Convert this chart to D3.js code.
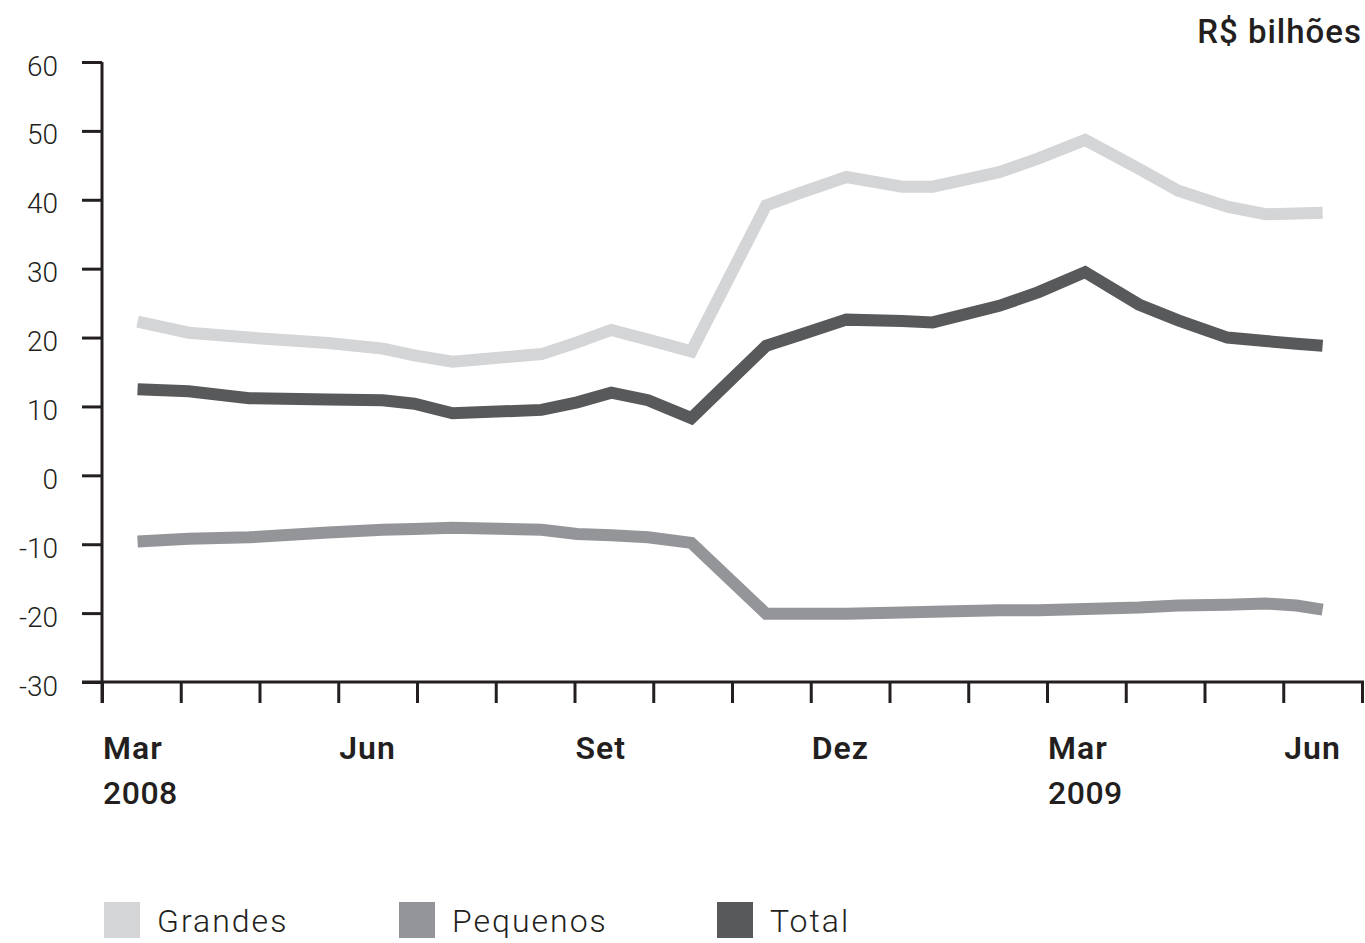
<!DOCTYPE html>
<html><head><meta charset="utf-8">
<script src="https://cdn.jsdelivr.net/npm/d3@7"></script>
<style>
html,body{margin:0;padding:0;background:#fff;}
svg{display:block;font-family:Roboto,"Open Sans",sans-serif;}
</style></head>
<body>
<svg id="chart" width="1365" height="943"></svg>
<script>
// ---- data ----
const dates = ["2008-03-15","2008-04-04","2008-04-27","2008-05-28","2008-06-18","2008-06-30",
  "2008-07-15","2008-08-19","2008-09-02","2008-09-15","2008-09-29","2008-10-16",
  "2008-11-14","2008-11-27","2008-12-15","2009-01-06","2009-01-18","2009-02-12",
  "2009-02-26","2009-03-16","2009-04-06","2009-04-21","2009-05-10","2009-05-25",
  "2009-06-06","2009-06-16"];
const grandes = [22.3,20.7,20.0,19.2,18.4,17.4,16.5,17.6,19.3,21.1,19.7,18.0,
  39.2,41.0,43.3,41.9,41.9,44.0,46.0,48.7,44.5,41.3,39.0,37.9,38.0,38.1];
const pequenos = [-9.6,-9.2,-9.0,-8.3,-7.9,-7.8,-7.6,-7.9,-8.5,-8.7,-9.0,-9.8,
  -20.1,-20.1,-20.1,-19.9,-19.8,-19.6,-19.6,-19.4,-19.2,-18.9,-18.8,-18.6,-18.9,-19.5];
const total = [12.5,12.2,11.2,11.0,10.9,10.4,9.0,9.5,10.6,12.0,10.9,8.3,
  18.8,20.4,22.6,22.4,22.2,24.6,26.6,29.5,24.8,22.5,20.0,19.5,19.1,18.8];
const yTicks = [-30,-20,-10,0,10,20,30,40,50,60];
const monthCount = 16; // Mar 2008 .. Jul 2009 boundaries
const xLabels = [{m:0,l1:"Mar",l2:"2008"},{m:3,l1:"Jun",l2:""},{m:6,l1:"Set",l2:""},
  {m:9,l1:"Dez",l2:""},{m:12,l1:"Mar",l2:"2009"},{m:15,l1:"Jun",l2:""}];
const seriesNames = ["Grandes","Pequenos","Total"];
const seriesColors = ["#d4d5d7","#939598","#58595b"];
const unitLabel = "R$ bilhões";

// ---- helpers ----
function monthIndex(s){
  const [y,m,d] = s.split("-").map(Number);
  const dim = new Date(y, m, 0).getDate();
  return (y-2008)*12 + (m-3) + (d-1)/dim;
}

const svg = d3.select("#chart");
const x = d3.scaleLinear().domain([0, monthCount]).range([102, 1362]);
const y = d3.scaleLinear().domain([-30, 60]).range([682, 62]);
const axisColor = "#231f20";

// y axis
const yAxis = d3.axisLeft(y).tickValues(yTicks).tickSize(20).tickSizeOuter(0).tickFormat(d=>String(d));
const gy = svg.append("g").attr("transform","translate(102,0)").call(yAxis);
gy.select(".domain").attr("stroke",axisColor).attr("stroke-width",3).attr("d","M0,62V703");
gy.selectAll(".tick line").attr("stroke",axisColor).attr("stroke-width",3);
gy.selectAll(".tick text").attr("x",-44).attr("dy",null).attr("y",13)
  .attr("font-size",28).attr("fill","#231f20").attr("font-family","Roboto").attr("font-weight",300);

// x axis
const xAxis = d3.axisBottom(x).tickValues(d3.range(0, monthCount+1)).tickSize(21).tickSizeOuter(0).tickFormat("");
const gx = svg.append("g").attr("transform","translate(0,682)").call(xAxis);
gx.select(".domain").attr("stroke",axisColor).attr("stroke-width",3).attr("d","M82,0H1364");
gx.selectAll(".tick line").attr("stroke",axisColor).attr("stroke-width",3);

const lab = svg.append("g");
xLabels.forEach(d=>{
  lab.append("text").attr("x",x(d.m)+1).attr("y",759).text(d.l1)
    .attr("font-size",32).attr("font-weight",600).attr("letter-spacing",1).attr("fill","#231f20");
  if(d.l2) lab.append("text").attr("x",x(d.m)+1).attr("y",804).text(d.l2)
    .attr("font-size",32).attr("font-weight",500).attr("letter-spacing",0.5).attr("fill","#231f20");
});

// unit label
svg.append("text").attr("x",1362).attr("y",43).attr("text-anchor","end")
  .attr("font-size",33).attr("font-weight",500).attr("letter-spacing",1).attr("fill","#231f20").text(unitLabel);

// lines
const line = d3.line().x(d=>x(d[0])).y(d=>y(d[1]));
const mi = dates.map(monthIndex);
const seriesVals = [grandes, pequenos, total];
seriesVals.forEach((vals,i)=>{
  svg.append("path").datum(mi.map((m,j)=>[m, vals[j]]))
    .attr("d",line).attr("fill","none").attr("stroke",seriesColors[i])
    .attr("stroke-width",12).attr("stroke-linejoin","miter").attr("stroke-linecap","butt");
});

// legend
const legX = [104, 399, 717];
seriesNames.forEach((n,i)=>{
  svg.append("rect").attr("x",legX[i]).attr("y",902).attr("width",36).attr("height",36).attr("fill",seriesColors[i]);
  svg.append("text").attr("x",legX[i]+53).attr("y",932).text(n)
    .attr("font-size",32).attr("font-weight",300).attr("letter-spacing",2).attr("fill","#231f20");
});
</script>
</body></html>
